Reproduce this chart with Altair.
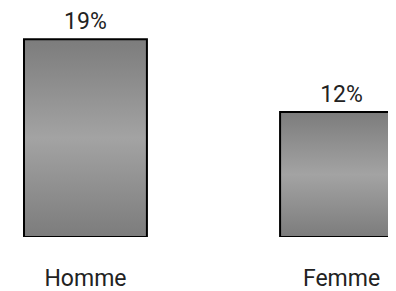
import altair as alt
import pandas as pd

categories = ["Homme", "Femme"]
values = [19, 12]
labels = ["19%", "12%"]

df = pd.DataFrame({"cat": categories, "val": values, "lab": labels})

xscale = alt.Scale(domain=categories, range=[0, 411], paddingInner=0.52, paddingOuter=0.0625)
yscale = alt.Scale(domain=[0, 22], nice=False, zero=True)

x = alt.X(
    "cat:N",
    scale=xscale,
    sort=categories,
    axis=alt.Axis(
        title=None, domain=False, ticks=False, labelPadding=30,
        labelFontSize=23, labelFont="Roboto", labelColor="#222222",
        labelAngle=0, labelFontWeight="normal",
    ),
)
y = alt.Y("val:Q", scale=yscale, axis=None)

grad = alt.Gradient(
    gradient="linear",
    stops=[
        alt.GradientStop(color="#7c7c7c", offset=0),
        alt.GradientStop(color="#a3a3a3", offset=0.5),
        alt.GradientStop(color="#7c7c7c", offset=1),
    ],
    x1=0, x2=0, y1=0, y2=1,
)

bars = alt.Chart(df).mark_bar(
    fill=grad, stroke="#000000", strokeWidth=2, clip=True
).encode(x=x, y=y)

text = alt.Chart(df).mark_text(
    font="Roboto", fontSize=23, color="#222222", baseline="alphabetic", dy=-10
).encode(x=x, y=y, text="lab:N")

chart = (
    alt.layer(bars, text)
    .properties(
        width=380,
        height=229,
        autosize=alt.AutoSizeParams(type="none"),
        padding={"left": 0, "top": 0, "right": 0, "bottom": 54},
    )
    .configure_view(stroke=None)
)

chart.save("out.html", embed_options={"renderer": "svg", "actions": False})
